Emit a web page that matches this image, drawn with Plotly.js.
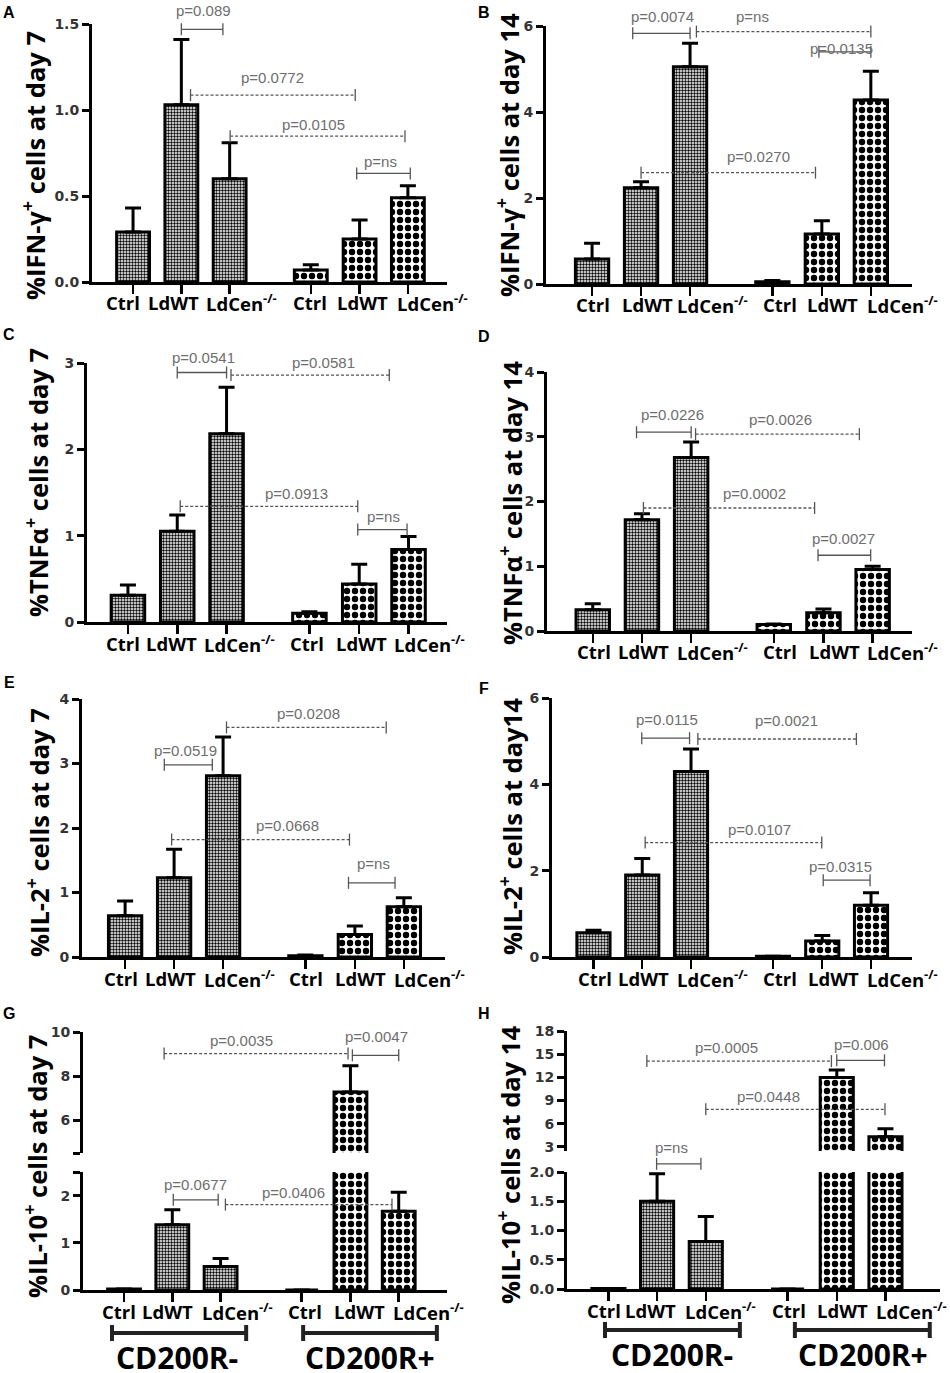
<!DOCTYPE html>
<html>
<head>
<meta charset="utf-8">
<script src="https://cdn.plot.ly/plotly-3.0.1.min.js"></script>
<style>
  body { margin: 0; background: #fff; }
  #chart { width: 950px; height: 1373px; }
</style>
</head>
<body>
<div id="chart"></div>
<script>
// categories, shared by all panels
var groupLabels = ['Ctrl', 'LdWT', 'LdCen<sup>-/-</sup>', 'Ctrl', 'LdWT', 'LdCen<sup>-/-</sup>'];
var cellGroups = ['CD200R-', 'CD200R+'];

// mean % positive cells and SEM (upper whisker only), order as groupLabels
var ifnDay7 = [0.29, 1.03, 0.60, 0.07, 0.25, 0.49];
var ifnDay7Sem = [0.14, 0.38, 0.21, 0.03, 0.11, 0.07];
var ifnDay14 = [0.58, 2.24, 5.05, 0.05, 1.16, 4.28];
var ifnDay14Sem = [0.37, 0.14, 0.55, 0.03, 0.31, 0.67];
var tnfDay7 = [0.31, 1.05, 2.18, 0.10, 0.44, 0.84];
var tnfDay7Sem = [0.12, 0.19, 0.54, 0.02, 0.23, 0.15];
var tnfDay14 = [0.33, 1.72, 2.68, 0.10, 0.28, 0.95];
var tnfDay14Sem = [0.09, 0.09, 0.24, 0.01, 0.06, 0.05];
var il2Day7 = [0.64, 1.23, 2.81, 0.02, 0.35, 0.78];
var il2Day7Sem = [0.23, 0.44, 0.60, 0.01, 0.13, 0.14];
var il2Day14 = [0.56, 1.90, 4.30, 0.02, 0.37, 1.20];
var il2Day14Sem = [0.06, 0.38, 0.52, null, 0.13, 0.29];
var il10Day7 = [0.02, 1.38, 0.50, 0, 7.27, 1.67];
var il10Day7Sem = [null, 0.32, 0.17, null, 1.20, 0.40];
var il10Day14 = [0.01, 1.50, 0.81, 0, 11.96, 4.29];
var il10Day14Sem = [null, 0.47, 0.43, null, 0.99, 1.03];

// p-value brackets: [from, to, line y, label x, label y, label, dashed]
var ifnDay7P = [
  [2.0, 2.86, 1.469, 2.46, 1.58, 'p=0.089', false],
  [2.19, 5.6, 1.087, 3.88, 1.19, 'p=0.0772', true],
  [3.01, 6.63, 0.848, 4.74, 0.918, 'p=0.0105', true],
  [5.63, 6.74, 0.631, 6.12, 0.70, 'p=ns', false]
];
var ifnDay14P = [
  [1.83, 3.0, 5.83, 2.43, 6.21, 'p=0.0074', false],
  [3.13, 6.69, 5.87, 4.27, 6.23, 'p=ns', true],
  [5.63, 6.69, 5.4, 6.1, 5.48, 'p=0.0135', false],
  [2.0, 5.56, 2.59, 4.39, 2.96, 'p=0.0270', true]
];
var tnfDay7P = [
  [2.0, 3.0, 2.89, 2.53, 3.06, 'p=0.0541', false],
  [3.09, 6.3, 2.86, 4.97, 3.0, 'p=0.0581', true],
  [2.06, 5.66, 1.34, 4.41, 1.49, 'p=0.0913', true],
  [5.66, 6.66, 1.07, 6.18, 1.22, 'p=ns', false]
];
var tnfDay14P = [
  [1.89, 3.0, 3.07, 2.62, 3.34, 'p=0.0226', false],
  [3.09, 6.42, 3.04, 4.81, 3.26, 'p=0.0026', true],
  [2.03, 5.51, 1.90, 4.29, 2.12, 'p=0.0002', true],
  [5.58, 6.65, 1.17, 6.1, 1.43, 'p=0.0027', false]
];
var il2Day7P = [
  [1.80, 2.78, 2.98, 2.24, 3.2, 'p=0.0519', false],
  [3.07, 6.33, 3.56, 4.74, 3.77, 'p=0.0208', true],
  [1.95, 5.58, 1.82, 4.31, 2.04, 'p=0.0668', true],
  [5.56, 6.51, 1.15, 6.07, 1.45, 'p=ns', false]
];
var il2Day14P = [
  [1.99, 2.97, 5.07, 2.5, 5.5, 'p=0.0115', false],
  [3.14, 6.39, 5.05, 4.96, 5.48, 'p=0.0021', true],
  [2.06, 5.68, 2.65, 4.41, 2.96, 'p=0.0107', true],
  [5.71, 6.67, 1.78, 6.07, 2.09, 'p=0.0315', false]
];
var il10Day7PTop = [
  [1.83, 5.64, 9.02, 3.43, 9.6, 'p=0.0035', true],
  [5.73, 6.69, 8.94, 6.23, 9.78, 'p=0.0047', false]
];
var il10Day7PBottom = [
  [2.02, 2.95, 1.91, 2.48, 2.23, 'p=0.0677', false],
  [3.10, 6.55, 1.81, 4.5, 2.07, 'p=0.0406', true]
];
var il10Day14PTop = [
  [1.79, 5.58, 14.1, 3.43, 15.9, 'p=0.0005', true],
  [5.69, 6.67, 14.2, 6.2, 16.3, 'p=0.006', false],
  [3.0, 6.68, 7.85, 4.29, 9.45, 'p=0.0448', true]
];
var il10Day14PBottom = [
  [1.99, 2.9, 2.14, 2.3, 2.42, 'p=ns', false]
];

// ---- layout helpers ----
var W = 950, H = 1373;
var barPos = [1, 2, 3, 4.68, 5.69, 6.69];
var traces = [], shapes = [], annotations = [];
var layout = {
  width: W, height: H,
  margin: { l: 0, r: 0, t: 0, b: 0 },
  showlegend: false,
  paper_bgcolor: 'white',
  plot_bgcolor: 'rgba(0,0,0,0)',
  font: { family: 'Liberation Sans, Arial, sans-serif', color: '#000' }
};

function axKey(id) { return id.charAt(0) + 'axis' + id.slice(1); }
function frac(v, r) { return (v - r[0]) / (r[1] - r[0]); }

// x axis: ticks at the bars; labels are placed by hand below (as in the figure, they are not centred)
function addX(id, yid, px, xr, labelLeft) {
  layout[axKey(id)] = {
    domain: [px[0] / W, px[1] / W], range: xr, anchor: yid,
    showline: true, linewidth: 3, linecolor: 'black',
    ticks: 'outside', ticklen: 9, tickwidth: 2.5, tickcolor: 'black',
    tickmode: 'array', tickvals: barPos, showticklabels: false,
    showgrid: false, zeroline: false, fixedrange: true
  };
  groupLabels.forEach(function (t, i) {
    annotations.push({
      xref: id, yref: yid + ' domain', x: labelLeft[i], y: 0, yshift: -21,
      xanchor: 'left', yanchor: 'middle', text: t, showarrow: false,
      font: { family: 'Open Sans', size: 18.5, weight: 'bold', color: 'black' }
    });
  });
}

function addY(id, xid, py, yr, vals, text, fmt) {
  var ax = {
    domain: [1 - py[1] / H, 1 - py[0] / H], range: yr, anchor: xid,
    showline: true, linewidth: 3, linecolor: 'black',
    ticks: 'outside', ticklen: 7, tickwidth: 3, tickcolor: 'black',
    tickmode: 'array', tickvals: vals,
    tickfont: { family: 'DejaVu Sans', size: 14, weight: 'bold', color: '#333' },
    showgrid: false, zeroline: false, fixedrange: true
  };
  if (text) ax.ticktext = text;
  if (fmt) ax.tickformat = fmt;
  layout[axKey(id)] = ax;
}

// fine checker for CD200R-, coarse checker for CD200R+
var tileSize = [3, 3, 3, 8, 8, 8];

function addBars(xid, yid, mean, sem) {
  traces.push({
    type: 'bar', x: barPos, y: mean, width: 0.68,
    xaxis: xid, yaxis: yid,
    marker: {
      color: 'white',
      line: { color: 'black', width: 3 },
      pattern: { shape: '.', fgcolor: 'black', bgcolor: 'white', size: tileSize, solidity: 0.5 }
    },
    error_y: {
      type: 'data', symmetric: false,
      array: sem, arrayminus: sem.map(function () { return 0; }),
      color: 'black', thickness: 3, width: 8
    },
    hoverinfo: 'skip'
  });
}

function addBrackets(xid, yid, yr, list) {
  var yref = yid + ' domain';
  list.forEach(function (b) {
    var y = frac(b[2], yr);
    shapes.push({
      type: 'line', xref: xid, yref: yref, x0: b[0], x1: b[1], y0: y, y1: y,
      line: { color: '#555', width: 1.3, dash: b[6] ? '3px,2px' : 'solid' }
    });
    [b[0], b[1]].forEach(function (x) {
      shapes.push({
        type: 'line', xref: xid, yref: yref, ysizemode: 'pixel', yanchor: y,
        x0: x, x1: x, y0: -6, y1: 6, line: { color: '#555', width: 1.3 }
      });
    });
    annotations.push({
      xref: xid, yref: yref, x: b[3], y: frac(b[4], yr), text: b[5],
      xanchor: 'center', yanchor: 'middle', showarrow: false,
      font: { family: 'Liberation Sans', size: 15, color: '#6e6e6e' }
    });
  });
}

function addTitle(text, pos) {
  annotations.push({
    xref: 'paper', yref: 'paper', x: pos[0] / W, y: 1 - pos[1] / H,
    xanchor: 'center', yanchor: 'middle',
    text: text, textangle: -90, showarrow: false,
    font: { family: 'Open Sans', size: 25.5, weight: 'bold', color: 'black' }
  });
}

function addLetter(text, pos) {
  annotations.push({
    xref: 'paper', yref: 'paper', x: pos[0] / W, y: 1 - pos[1] / H,
    xanchor: 'center', yanchor: 'middle',
    text: text, showarrow: false,
    font: { family: 'Liberation Sans', size: 16, weight: 'bold', color: 'black' }
  });
}

// CD200R- / CD200R+ group bars under the bottom panels
function addGroups(xid, spans, labelX, lineY, labelY) {
  var yl = 1 - lineY / H;
  spans.forEach(function (s, i) {
    shapes.push({ type: 'line', xref: xid, yref: 'paper', x0: s[0], x1: s[1], y0: yl, y1: yl,
                  line: { color: '#222', width: 4 } });
    [s[0], s[1]].forEach(function (x) {
      shapes.push({ type: 'line', xref: xid, yref: 'paper', ysizemode: 'pixel', yanchor: yl,
                    x0: x, x1: x, y0: -8, y1: 8, line: { color: '#222', width: 4 } });
    });
    annotations.push({
      xref: xid, yref: 'paper', x: labelX[i], y: 1 - labelY / H, text: cellGroups[i],
      xanchor: 'center', yanchor: 'middle', showarrow: false,
      font: { family: 'Open Sans', size: 30, weight: 'bold', color: 'black' }
    });
  });
}

/**
 * SIMPLE PANELS A-F
 */
var simple = [
  { x: 'x', y: 'y', letter: 'A', lpos: [9, 12], title: '%IFN-γ<sup>+</sup> cells at day 7', tpos: [33, 166],
    mean: ifnDay7, sem: ifnDay7Sem, p: ifnDay7P,
    px: [92, 447], py: [24, 282], xr: [0.15, 7.5], yr: [0, 1.5], vals: [0, 0.5, 1, 1.5], fmt: '.1f',
    labels: [0.39, 1.26, 2.46, 4.26, 5.19, 6.43] },
  { x: 'x2', y: 'y2', letter: 'B', lpos: [484, 12], title: '%IFN-γ<sup>+</sup> cells at day 14', tpos: [508, 155],
    mean: ifnDay14, sem: ifnDay14Sem, p: ifnDay14P,
    px: [546, 912], py: [26, 284], xr: [0.06, 7.53], yr: [0, 6], vals: [0, 2, 4, 6],
    labels: [0.63, 1.58, 2.69, 4.44, 5.35, 6.58] },
  { x: 'x3', y: 'y3', letter: 'C', lpos: [9, 335], title: '%TNFα<sup>+</sup> cells at day 7', tpos: [37, 483],
    mean: tnfDay7, sem: tnfDay7Sem, p: tnfDay7P,
    px: [87, 447], py: [363, 622], xr: [0.17, 7.47], yr: [0, 3], vals: [0, 1, 2, 3],
    labels: [0.51, 1.32, 2.51, 4.24, 5.17, 6.35] },
  { x: 'x4', y: 'y4', letter: 'D', lpos: [484, 337], title: '%TNFα<sup>+</sup> cells at day 14', tpos: [510, 503],
    mean: tnfDay14, sem: tnfDay14Sem, p: tnfDay14P,
    px: [547, 912], py: [372, 631], xr: [0.07, 7.49], yr: [0, 4], vals: [0, 1, 2, 3, 4],
    labels: [0.63, 1.48, 2.68, 4.42, 5.35, 6.54] },
  { x: 'x5', y: 'y5', letter: 'E', lpos: [9, 683], title: '%IL-2<sup>+</sup> cells at day 7', tpos: [37, 833],
    mean: il2Day7, sem: il2Day7Sem, p: il2Day7P,
    px: [82, 445], py: [699, 957], xr: [0.12, 7.53], yr: [0, 4], vals: [0, 1, 2, 3, 4],
    labels: [0.52, 1.36, 2.57, 4.31, 5.25, 6.44] },
  { x: 'x6', y: 'y6', letter: 'F', lpos: [484, 688], title: '%IL-2<sup>+</sup> cells at day14', tpos: [510, 827],
    mean: il2Day14, sem: il2Day14Sem, p: il2Day14P,
    px: [552, 912], py: [698, 957], xr: [0.15, 7.53], yr: [0, 6], vals: [0, 2, 4, 6],
    labels: [0.65, 1.46, 2.67, 4.43, 5.36, 6.56] }
];

simple.forEach(function (s) {
  addX(s.x, s.y, s.px, s.xr, s.labels);
  addY(s.y, s.x, s.py, s.yr, s.vals, null, s.fmt);
  addBars(s.x, s.y, s.mean, s.sem);
  addBrackets(s.x, s.y, s.yr, s.p);
  addTitle(s.title, s.tpos);
  addLetter(s.letter, s.lpos);
});

/**
 * BROKEN-AXIS PANELS G and H
 * Two stacked y axes sharing one x axis
 */
// G: IL-10 day 7
var gLow = [0, 2.5], gHigh = [4.5, 10];
addX('x7', 'y7', [83, 447], [0.15, 7.69], [0.50, 1.33, 2.57, 4.35, 5.30, 6.52]);
addY('y7', 'x7', [1172, 1290], gLow, [0, 1, 2, 2.5], ['0', '1', '2', '']);
addY('y8', 'x7', [1032, 1153], gHigh, [4.5, 6, 8, 10], ['', '6', '8', '10']);
addBars('x7', 'y7', il10Day7, il10Day7Sem);
addBars('x7', 'y8', il10Day7, il10Day7Sem);
addBrackets('x7', 'y7', gLow, il10Day7PBottom);
addBrackets('x7', 'y8', gHigh, il10Day7PTop);
addTitle('%IL-10<sup>+</sup> cells at day 7', [35, 1167]);
addLetter('G', [9, 1013]);
addGroups('x7', [[0.75, 3.53], [4.71, 7.48]], [2.1, 6.09], 1333, 1357);

// H: IL-10 day 14
var hLow = [0, 2], hHigh = [2.45, 18];
addX('x8', 'y9', [567, 940], [0.15, 7.81], [0.52, 1.31, 2.54, 4.32, 5.25, 6.45]);
addY('y9', 'x8', [1172, 1289], hLow, [0, 0.5, 1, 1.5, 2], null, '.1f');
addY('y10', 'x8', [1031, 1151], hHigh, [3, 6, 9, 12, 15, 18]);
addBars('x8', 'y9', il10Day14, il10Day14Sem);
addBars('x8', 'y10', il10Day14, il10Day14Sem);
addBrackets('x8', 'y9', hLow, il10Day14PBottom);
addBrackets('x8', 'y10', hHigh, il10Day14PTop);
addTitle('%IL-10<sup>+</sup> cells at day 14', [508, 1165]);
addLetter('H', [484, 1013]);
addGroups('x8', [[0.93, 3.7], [4.83, 7.6]], [2.31, 6.23], 1330, 1354);

layout.shapes = shapes;
layout.annotations = annotations;

Plotly.newPlot('chart', traces, layout, { staticPlot: true });
</script>
</body>
</html>
